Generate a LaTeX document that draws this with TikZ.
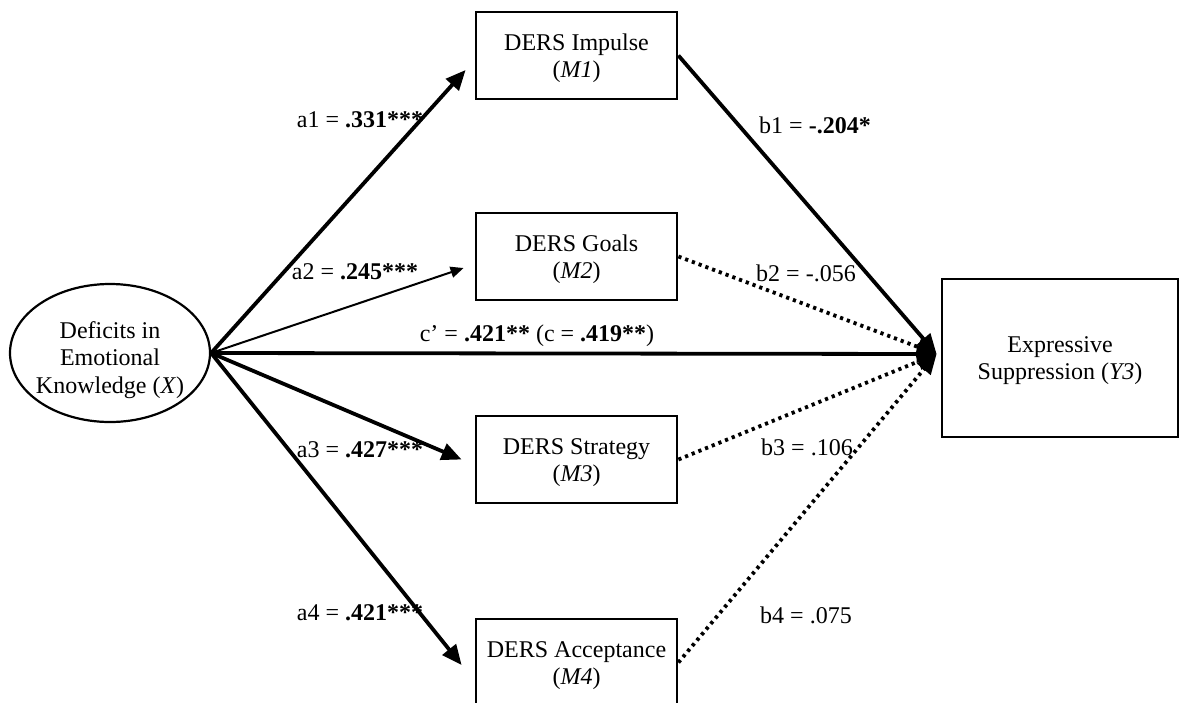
\documentclass[tikz,border=0pt]{standalone}
\usepackage{fontspec}
\setmainfont{Liberation Serif}
\usetikzlibrary{arrows.meta,shapes.geometric}
\begin{document}
\begin{tikzpicture}[x=0.5pt,y=-0.5pt,
  every node/.style={font=\fontsize{12pt}{13.6pt}\selectfont},
  medbox/.style={draw,line width=1.4pt,minimum width=100.5pt,minimum height=43.5pt,align=center,inner sep=0pt},
  outbox/.style={draw,line width=1.4pt,minimum width=118pt,minimum height=79pt,align=center,inner sep=0pt},
  xell/.style={draw,ellipse,line width=1.1pt,minimum width=100pt,minimum height=69pt,inner sep=0pt},
  txt/.style={align=center,inner sep=0pt},
  lab/.style={inner sep=0pt},
  thickarr/.style={line width=1.9pt,-{Triangle[length=10pt,width=8.5pt]}},
  thinarr/.style={line width=1pt,-{Triangle[length=6.5pt,width=5.5pt]}},
  dotarr/.style={line width=1.9pt,dash pattern=on 1.6pt off 2pt,-{Triangle[length=10pt,width=8.5pt]}}]
\clip (0,0) rectangle (1182,702);

% nodes
\node[xell] (X) at (110,353) {};
\node[txt] (Xt) at (110,360) {Deficits in\\Emotional\\Knowledge (\textit{X})};
\node[medbox] (M1) at (576.5,55.5) {};
\node[medbox] (M2) at (576.5,256.5) {};
\node[medbox] (M3) at (576.5,459.5) {};
\node[medbox] (M4) at (576.5,662.5) {};
\node[outbox] (Y) at (1060,358) {};
\node[txt] (M1t) at (576.5,58.5) {DERS Impulse\\(\textit{M1})};
\node[txt] (M2t) at (576.5,259.5) {DERS Goals\\(\textit{M2})};
\node[txt] (M3t) at (576.5,462.5) {DERS Strategy\\(\textit{M3})};
\node[txt] (M4t) at (576.5,665.5) {DERS Acceptance\\(\textit{M4})};
\node[txt] (Yt) at (1060,361) {Expressive\\Suppression (\textit{Y3})};

% arrow end points
\coordinate (t1) at ([shift={(-9,14.5)}]M1.west);
\coordinate (t2) at ([shift={(-11,11.5)}]M2.west);
\coordinate (t3) at ([shift={(-13,0)}]M3.west);
\coordinate (t4) at ([shift={(-13,2.5)}]M4.west);
\coordinate (cv) at ([shift={(-4,-4)}]Y.west);

% connectors
\draw[thickarr] (X.east) -- (t1);
\draw[thinarr] (X.east) -- (t2);
\draw[thickarr] (X.east) -- (t3);
\draw[thickarr] (X.east) -- (t4);
\draw[thickarr] (X.east) -- (cv);
\draw[thickarr] (M1.east) -- (cv);
\draw[dotarr] (M2.east) -- (cv);
\draw[dotarr] (M3.east) -- (cv);
\draw[dotarr] (M4.east) -- (cv);

% labels
\node[lab] (la1) at (360,120) {a1 = \textbf{.331***}};
\node[lab] (la2) at (355,272) {a2 = \textbf{.245***}};
\node[lab] (lc) at (537,336) {c’ = \textbf{.421**} (c = \textbf{.419**})};
\node[lab] (la3) at (360,450) {a3 = \textbf{.427***}};
\node[lab] (la4) at (360,613) {a4 = \textbf{.421***}};
\node[lab] (lb1) at (815,125) {b1 = \textbf{-.204*}};
\node[lab] (lb2) at (806,273) {b2 = -.056};
\node[lab] (lb3) at (807,447) {b3 = .106};
\node[lab] (lb4) at (806,615) {b4 = .075};
\end{tikzpicture}
\end{document}
